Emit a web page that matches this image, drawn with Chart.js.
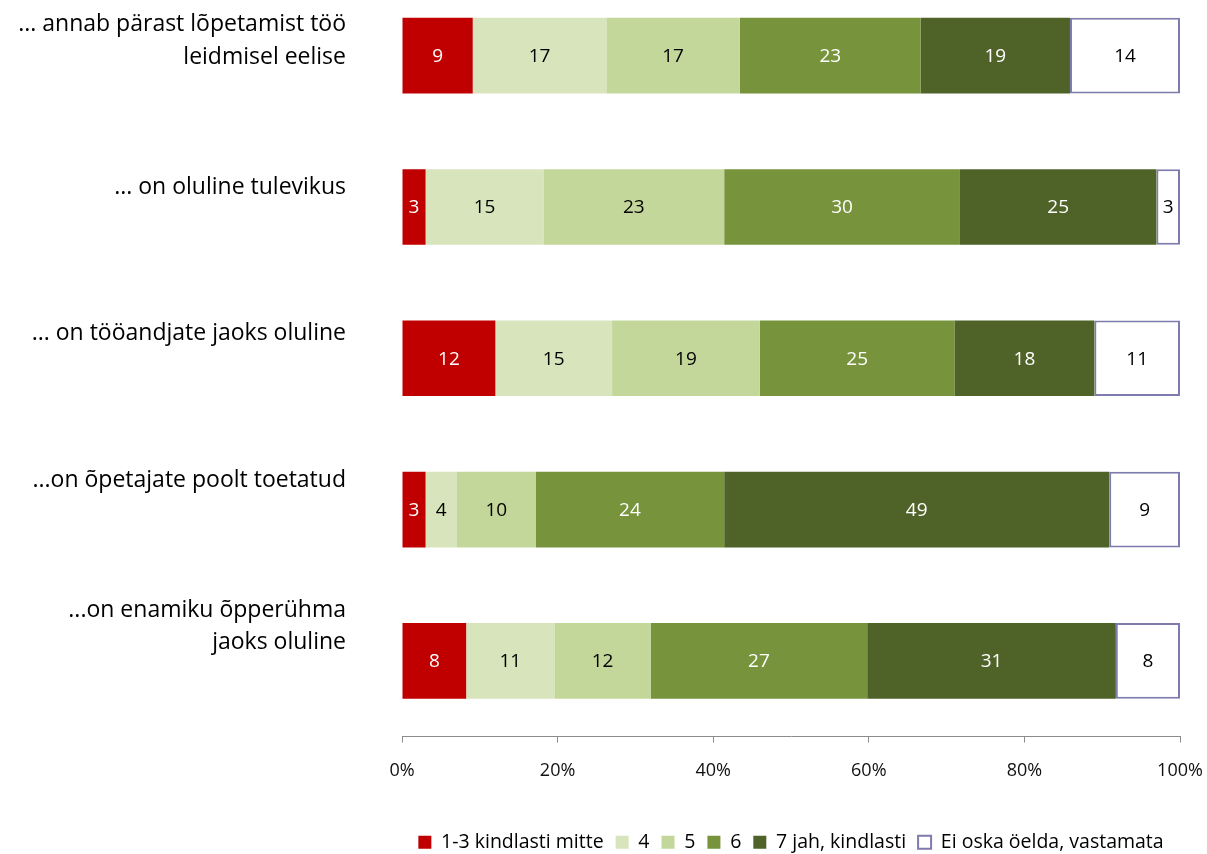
<!DOCTYPE html>
<html>
<head>
<meta charset="utf-8">
<script src="https://cdn.jsdelivr.net/npm/chart.js@4.4.1/dist/chart.umd.min.js"></script>
<style>
  html, body { margin: 0; padding: 0; background: #fff; overflow: hidden; }
  #wrap { position: absolute; left: 0; top: -20px; width: 1207px; height: 882px; }
</style>
</head>
<body>
<div id="wrap"><canvas id="grafico" width="1207" height="882"></canvas></div>
<script>
const categories = [
  ['... annab pärast lõpetamist töö', 'leidmisel eelise'],
  '... on oluline tulevikus',
  '... on tööandjate jaoks oluline',
  '...on õpetajate poolt toetatud',
  ['...on enamiku õpperühma', 'jaoks oluline']
];
const seriesNames = ['1-3 kindlasti mitte', '4', '5', '6', '7 jah, kindlasti', 'Ei oska öelda, vastamata'];
const v13 = [9, 3, 12, 3, 8];
const v4 = [17, 15, 15, 4, 11];
const v5 = [17, 23, 19, 10, 12];
const v6 = [23, 30, 25, 24, 27];
const v7 = [19, 25, 18, 49, 31];
const vEi = [14, 3, 11, 9, 8];
const xTicks = [0, 20, 40, 60, 80, 100];

const series = [v13, v4, v5, v6, v7, vEi];
const colors = ['#C00000', '#D8E4BC', '#C4D79B', '#77933C', '#4F6228', '#FFFFFF'];
const labelColors = ['#fff', '#000', '#000', '#fff', '#fff', '#000'];
const fontFamily = '"Open Sans", Lato, sans-serif';

// 100% stacked: every row is scaled to its own total
const totals = categories.map((c, i) => series.reduce((s, arr) => s + arr[i], 0));

const datasets = series.map((arr, k) => ({
  label: seriesNames[k],
  data: arr.map((v, i) => v / totals[i] * 100),
  raw: arr,
  backgroundColor: colors[k],
  borderColor: k === 5 ? '#7E7BAE' : colors[k],
  borderWidth: k === 5 ? 2 : 0,
  borderSkipped: false,
  barPercentage: 0.5,
  categoryPercentage: 1.0
}));

const valueLabels = {
  id: 'valueLabels',
  afterDatasetsDraw(chart) {
    const ctx = chart.ctx;
    ctx.save();
    ctx.font = '19px ' + fontFamily;
    ctx.textAlign = 'center';
    ctx.textBaseline = 'middle';
    chart.data.datasets.forEach((ds, k) => {
      const meta = chart.getDatasetMeta(k);
      meta.data.forEach((bar, i) => {
        ctx.fillStyle = labelColors[k];
        ctx.fillText(String(ds.raw[i]), (bar.x + bar.base) / 2, bar.y + 1);
      });
    });
    ctx.restore();
  }
};

// the category text sits a bit higher than the bars and on a tighter spacing
const labelMin = -0.4164, labelMax = 4.7508;

new Chart(document.getElementById('grafico').getContext('2d'), {
  type: 'bar',
  data: { labels: categories.map((c, i) => i), datasets: datasets },
  plugins: [valueLabels],
  options: {
    indexAxis: 'y',
    responsive: false,
    animation: false,
    layout: { padding: { top: 0, right: 27, bottom: 0, left: 0 } },
    scales: {
      x: {
        type: 'linear',
        stacked: true,
        min: 0,
        max: 100,
        afterBuildTicks: (s) => { s.ticks = xTicks.map(v => ({ value: v })); },
        ticks: {
          callback: (v) => v + '%',
          color: '#111',
          font: { size: 18, family: fontFamily },
          padding: 18,
          maxRotation: 0
        },
        grid: { display: true, drawOnChartArea: false, drawTicks: true, tickLength: 6, color: '#8c8c8c' },
        border: { display: true, color: '#8c8c8c', width: 1 },
        afterFit: (s) => { s.height = 84; s.paddingLeft = 0; s.paddingRight = 0; }
      },
      y: {
        stacked: true,
        display: false
      },
      y2: {
        type: 'linear',
        position: 'left',
        reverse: true,
        offset: false,
        bounds: 'data',
        min: labelMin,
        max: labelMax,
        afterBuildTicks: (s) => { s.ticks = categories.map((c, i) => ({ value: i })); },
        ticks: {
          autoSkip: false,
          padding: 48,
          color: '#000',
          font: { size: 23, family: fontFamily, lineHeight: 1.42 },
          callback: (v) => categories[v]
        },
        grid: { display: false },
        border: { display: false },
        afterFit: (s) => { s.width = 402; s.paddingTop = 0; s.paddingBottom = 0; }
      }
    },
    plugins: {
      tooltip: { enabled: false },
      legend: {
        display: true,
        position: 'bottom',
        fullSize: false,
        labels: {
          boxWidth: 13,
          boxHeight: 13,
          padding: 12,
          color: '#000',
          font: { size: 19.5, family: fontFamily }
        }
      }
    }
  }
});
</script>
</body>
</html>
